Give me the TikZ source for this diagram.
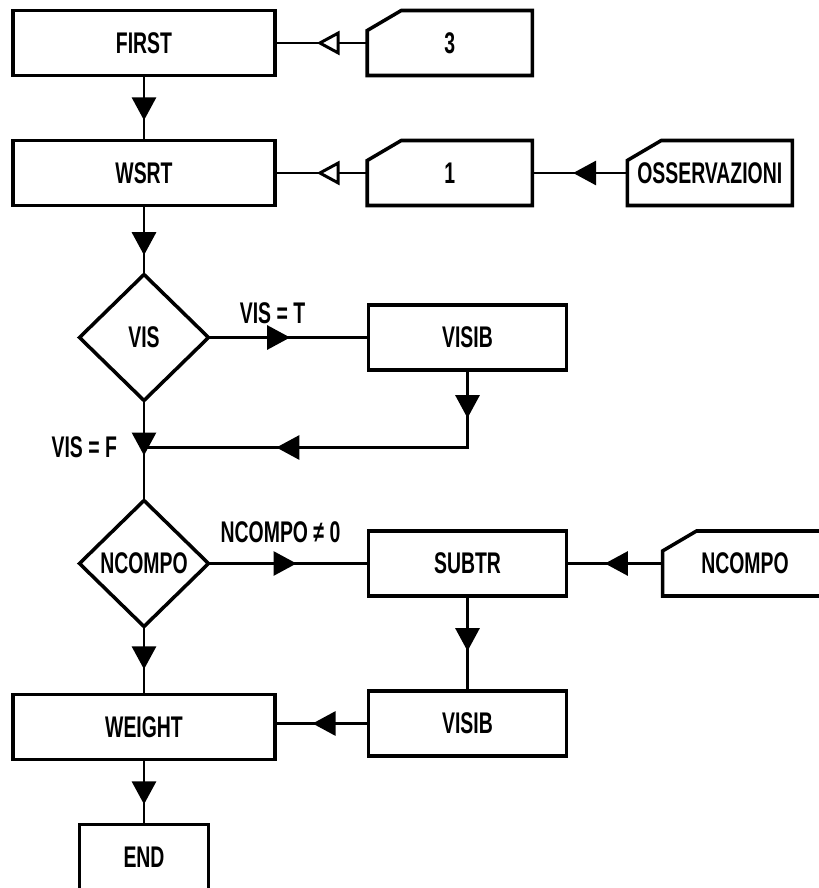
\documentclass[tikz,border=0pt]{standalone}
\usepackage{fontspec}
\setmainfont{Liberation Sans}[FakeStretch=0.65]
\usetikzlibrary{arrows.meta,positioning,shapes.geometric,decorations.markings}
\tikzset{
  fulltip/.tip={Triangle[length=0.46cm,width=0.48cm]},
  hollowtip/.tip={Triangle[length=0.46cm,width=0.48cm,fill=white]},
  box/.style={rectangle,draw,line width=2pt,minimum width=#1,minimum height=1.3cm,
              inner sep=0pt,outer sep=0pt},
  box/.default=3.96cm,
  card/.style={rectangle,minimum width=3.3cm,minimum height=1.3cm,inner sep=0pt,outer sep=0pt,
    append after command={\pgfextra{\draw[line width=2pt]
      ([xshift=0.68cm]\tikzlastnode.north west) -- (\tikzlastnode.north east)
      -- (\tikzlastnode.south east) -- (\tikzlastnode.south west)
      -- ([yshift=-0.4cm]\tikzlastnode.north west) -- cycle;}}},
  test/.style={diamond,draw,line width=2pt,minimum width=2.58cm,minimum height=2.52cm,
               inner sep=0pt,outer sep=0pt},
  lbl/.style={inner sep=1pt},
  conn/.style={line width=1.7pt},
  tipat/.style={postaction={decorate,decoration={markings,mark=at position #1 with {\arrow{fulltip}}}}},
  opentipat/.style={postaction={decorate,decoration={markings,mark=at position #1 with {\arrow{hollowtip}}}}},
}
\begin{document}
\begin{tikzpicture}[font=\fontsize{17}{20}\selectfont\bfseries]
  \useasboundingbox (0,0) rectangle (16.38,-17.76);
  % main column
  \node[box=5.25cm] (first) at (2.88,-0.86) {FIRST};
  \node[card,right=1.84cm of first] (cthree) {3};
  \node[box=5.25cm,below=1.3cm of first] (wsrt) {WSRT};
  \node[card,right=1.84cm of wsrt] (cone) {1};
  \node[card,right=1.9cm of cone] (cobs) {OSSERVAZIONI};
  \node[test,below=1.38cm of wsrt] (vis) {\makebox[0pt]{VIS}};
  \node[box,right=3.2cm of vis] (visib) {VISIB};
  \coordinate[below=0.94cm of vis] (join);
  \node[lbl,left=0.5cm of join] (visf) {VIS = F};
  \node[test,below=2cm of vis] (ncompo) {\makebox[0pt]{NCOMPO}};
  \node[box,right=3.2cm of ncompo] (subtr) {SUBTR};
  \node[card,right=1.92cm of subtr] (cncompo) {NCOMPO};
  \node[box,below=1.9cm of subtr] (visibb) {VISIB};
  \node[box=5.25cm,below=1.36cm of ncompo] (weight) {WEIGHT};
  \node[box=2.58cm,below=1.3cm of weight] (endbox) {END};
  % connectors
  \draw[conn,opentipat=0.55] (cthree) -- (first);
  \draw[conn,opentipat=0.55] (cone) -- (wsrt);
  \draw[conn,tipat=0.57] (cobs) -- (cone);
  \draw[conn,tipat=0.69] (first) -- (wsrt);
  \draw[conn,tipat=0.72] (wsrt) -- (vis);
  \draw[conn,tipat=0.51] (vis) -- node[lbl,above=0.2cm,pos=0.4] {VIS = T} (visib);
  \draw[conn,tipat=0.12,tipat=0.67] (visib) |- (join);
  \draw[conn,tipat=0.55] (vis) -- (ncompo);
  \draw[conn,tipat=0.55] (ncompo) -- node[lbl,above=0.35cm,pos=0.45] {NCOMPO ≠ 0} (subtr);
  \draw[conn,tipat=0.6] (cncompo) -- (subtr);
  \draw[conn,tipat=0.58] (subtr) -- (visibb);
  \draw[conn,tipat=0.63] (ncompo) -- (weight);
  \draw[conn,tipat=0.6] (visibb.west) -- (visibb.west -| weight.east);
  \draw[conn,tipat=0.69] (weight) -- (endbox);
\end{tikzpicture}
\end{document}
